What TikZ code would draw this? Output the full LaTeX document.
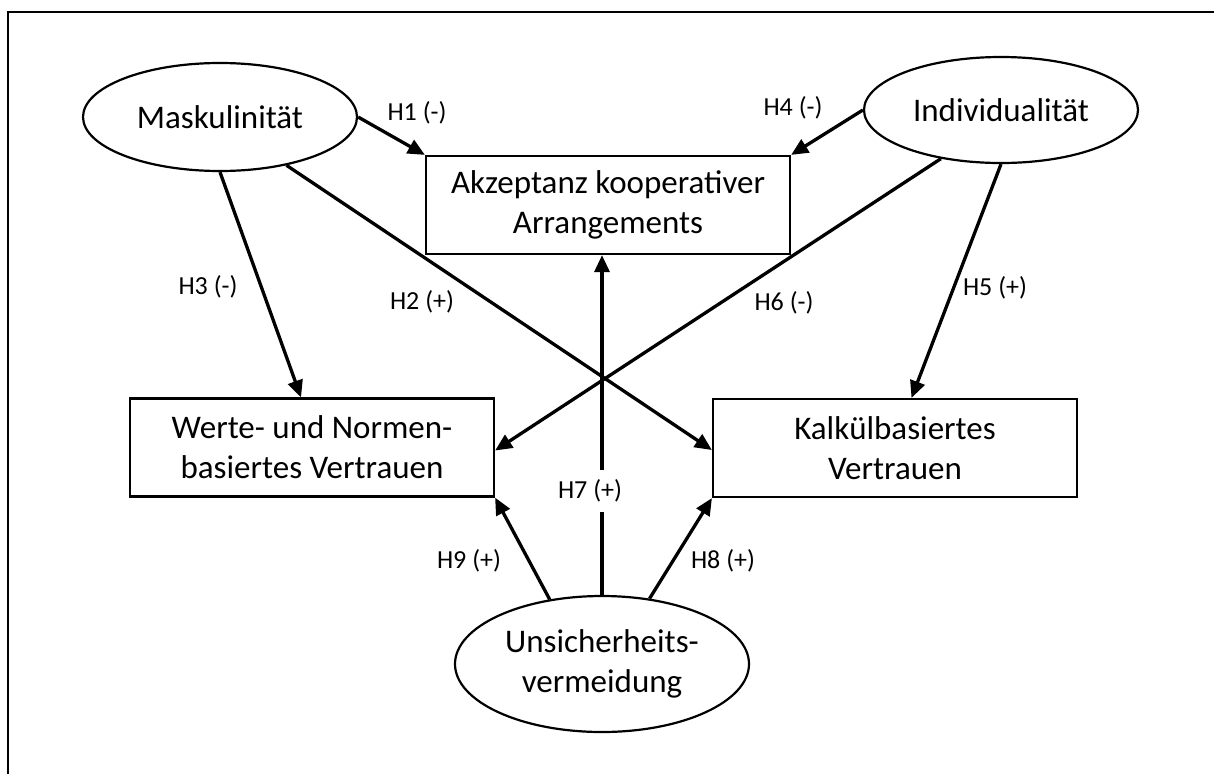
\documentclass[tikz,border=0pt]{standalone}
\usepackage{fontspec}
\setmainfont{Carlito}
\usetikzlibrary{arrows.meta,shapes.geometric,calc}
\begin{document}
\begin{tikzpicture}[x=1pt,y=-1pt,
  box/.style={draw,line width=2.2pt,minimum width=364pt,minimum height=98pt,
    inner sep=0pt,align=center,font=\fontsize{33}{40}\selectfont},
  oval/.style={draw,ellipse,line width=2.2pt,inner sep=0pt,align=center,
    font=\fontsize{33}{40}\selectfont},
  arr/.style={line width=3.3pt,-{Triangle[length=17pt,width=15pt]}},
  lab/.style={font=\fontsize{26}{30}\selectfont,inner sep=0pt}]
\useasboundingbox (0,0) rectangle (1214,774);

% outer frame
\coordinate (fb) at (8,774);
\coordinate (ftl) at (8,12);
\coordinate (fr) at (1214,12);
\draw[line width=2.2pt] (fb) -- (ftl) -- (fr);

% constructs
\node[oval,minimum width=274pt,minimum height=108pt] (mask) at (220,117) {Maskulinität};
\node[oval,minimum width=274pt,minimum height=106pt] (indiv) at (1001,110) {Individualität};
\node[oval,minimum width=294pt,minimum height=136pt] (unsich) at (602,664) {Unsicherheits-\\vermeidung};

\node[box] (akz) at (608,205) {Akzeptanz kooperativer\\Arrangements};
\node[box] (werte) at (312,447.5) {Werte- und Normen-\\basiertes Vertrauen};
\node[box] (kalk) at (895,448) {Kalkülbasiertes\\Vertrauen};

% hypotheses
\draw[arr] (mask.east) -- (akz.north west);
\draw[arr] (indiv.west) -- (akz.north east);
\draw[arr] (mask.south) -- ($(werte.north west)!0.47!(werte.north east)$);
\draw[arr] (mask.-36) -- ($(kalk.north west)!0.52!(kalk.south west)$);
\draw[arr] (indiv.219.6) -- ($(werte.north east)!0.53!(werte.south east)$);
\draw[arr] (indiv.south) -- ($(kalk.north west)!0.545!(kalk.north east)$);
\draw[arr] (unsich.129.2) -- (werte.south east);
\draw[arr] (unsich.54) -- (kalk.south west);
\draw[arr] (unsich.north) -- (unsich.north |- akz.south);

% labels
\node[lab] (l1) at (417,113) {H1 (-)};
\node[lab] (l2) at (422,302) {H2 (+)};
\node[lab] (l3) at (208,287) {H3 (-)};
\node[lab] (l4) at (793,108) {H4 (-)};
\node[lab] (l5) at (995,288) {H5 (+)};
\node[lab] (l6) at (784,303) {H6 (-)};
\node[lab,fill=white,inner xsep=3pt,inner ysep=10pt] (l7) at (590,491) {H7 (+)};
\node[lab] (l8) at (723,561) {H8 (+)};
\node[lab] (l9) at (469,561) {H9 (+)};
\end{tikzpicture}
\end{document}
